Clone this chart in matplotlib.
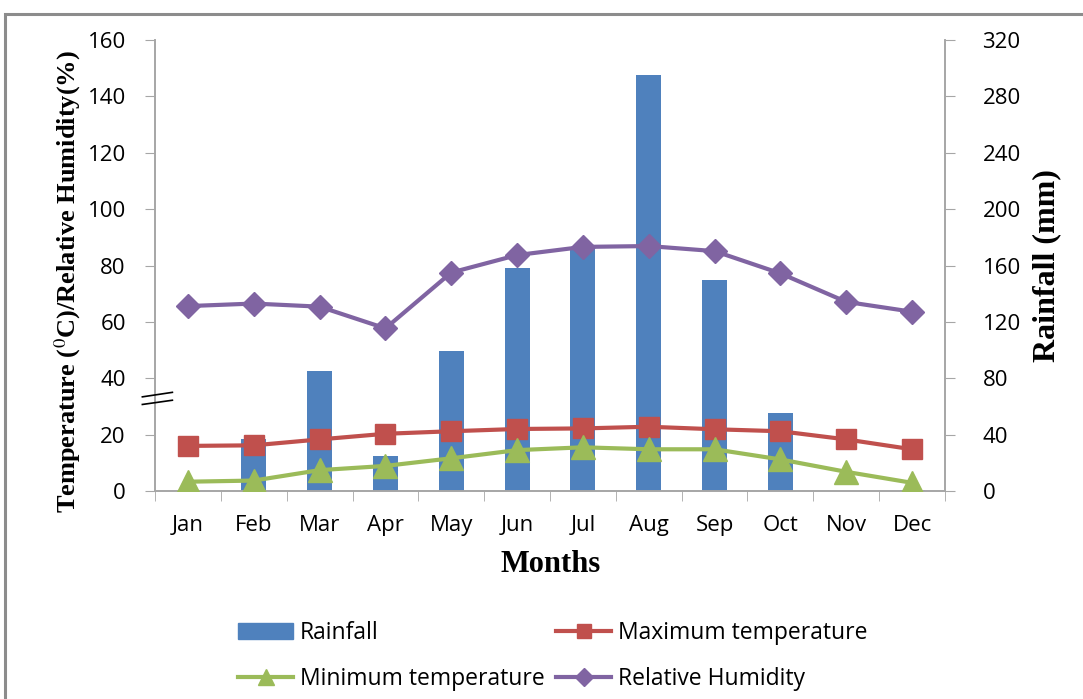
import matplotlib
matplotlib.use('Agg')
import matplotlib.pyplot as plt
import matplotlib.patches as mpatches
import matplotlib.transforms as mtransforms
from matplotlib.lines import Line2D
import numpy as np

months = ['Jan', 'Feb', 'Mar', 'Apr', 'May', 'Jun', 'Jul', 'Aug', 'Sep', 'Oct', 'Nov', 'Dec']
rainfall = [0, 37, 85, 25, 99, 158, 172, 295, 150, 55, 0, 1]
max_temp = [16.0, 16.2, 18.3, 20.3, 21.2, 22.0, 22.2, 22.8, 21.9, 21.2, 18.3, 14.8]
min_temp = [3.3, 3.7, 7.4, 8.9, 11.6, 14.5, 15.5, 14.8, 14.8, 11.2, 6.8, 2.9]
humidity = [65.6, 66.5, 65.4, 57.7, 77.5, 83.7, 86.6, 86.9, 85.1, 77.2, 67.1, 63.6]

plt.rcParams['font.family'] = ['Open Sans', 'DejaVu Sans']
plt.rcParams['mathtext.fontset'] = 'stix'

BLUE = '#4F81BD'
RED = '#C0504D'
GREEN = '#9BBB59'
PURPLE = '#8064A2'
GRAY = '#a6a6a6'

fig = plt.figure(figsize=(10.83, 6.99), dpi=100)
W, H = 1083, 699
ax = fig.add_axes([155 / W, 1 - 491 / H, (945 - 155) / W, (491 - 40) / H])
ax2 = ax.twinx()

x = np.arange(len(months))
ax2.bar(x, rainfall, width=0.38, color=BLUE, zorder=1)
ax2.set_ylim(0, 320)
ax2.set_yticks(np.arange(0, 321, 40))

# lines above the bars
ax.set_zorder(ax2.get_zorder() + 1)
ax.patch.set_visible(False)
ax.plot(x, max_temp, color=RED, lw=3, marker='s', ms=14, mec=RED, zorder=3)
ax.plot(x, min_temp, color=GREEN, lw=3, marker='^', ms=17, mec=GREEN, zorder=3)
ax.plot(x, humidity, color=PURPLE, lw=3, marker='D', ms=12, mec=PURPLE, zorder=3)
ax.set_ylim(0, 160)
ax.set_yticks(np.arange(0, 161, 20))
ax.set_xlim(-0.5, 11.5)
ax.set_xticks(x)
ax.set_xticklabels(months)
ax.set_xticks(np.arange(-0.5, 12, 1), minor=True)

for a in (ax, ax2):
    for s in a.spines.values():
        s.set_color(GRAY)
        s.set_linewidth(1.2)
    a.spines['top'].set_visible(False)
    a.tick_params(axis='y', direction='out', length=7, color=GRAY, labelsize=16)
ax.tick_params(axis='y', pad=14)
ax2.tick_params(axis='y', pad=20)
ax.tick_params(axis='x', which='major', length=0, labelsize=16, pad=17)
ax.tick_params(axis='x', which='minor', length=7, color=GRAY, direction='out')

# axis break marks on left axis
trans = mtransforms.blended_transform_factory(ax.transAxes, ax.transData)
for y0, y1 in [(33.4, 35.0), (30.7, 32.2)]:
    ax.plot([-0.016, 0.022], [y0, y1], color='black', lw=1.2, transform=trans, clip_on=False, zorder=5)

fig.text(68 / W, 1 - 282 / H, r'Temperature ($^{0}$C)/Relative Humidity(%)', rotation=90,
         ha='center', va='center', fontsize=19, fontweight='bold', family='Liberation Serif')
fig.text(1047 / W, 1 - 266 / H, 'Rainfall (mm)', rotation=90, ha='center', va='center',
         fontsize=23, fontweight='bold', family='Liberation Serif')
fig.text(551 / W, 1 - 565 / H, 'Months', ha='center', va='center', fontsize=22,
         fontweight='bold', family='Liberation Serif')

h_rain = mpatches.Patch(color=BLUE)
h_max = Line2D([], [], color=RED, lw=3, marker='s', ms=10)
h_min = Line2D([], [], color=GREEN, lw=3, marker='^', ms=11)
h_rh = Line2D([], [], color=PURPLE, lw=3, marker='D', ms=9)
leg_kw = dict(frameon=False, fontsize=16.5, handlelength=2.4, handletextpad=0.3,
              labelspacing=0.95, borderpad=0, borderaxespad=0, loc='upper left')
fig.legend([h_rain, h_min], ['Rainfall', 'Minimum temperature'],
           bbox_to_anchor=(238 / W, 1 - 621 / H), **leg_kw)
fig.legend([h_max, h_rh], ['Maximum temperature', 'Relative Humidity'],
           bbox_to_anchor=(556 / W, 1 - 621 / H), **leg_kw)

fig.add_artist(mpatches.Rectangle((5 / W, -0.02), 1.0, 1 - 14 / H + 0.02, transform=fig.transFigure,
                                  fill=False, edgecolor='#8c8c8c', lw=2.2))

fig.savefig('out.png', dpi=100)
